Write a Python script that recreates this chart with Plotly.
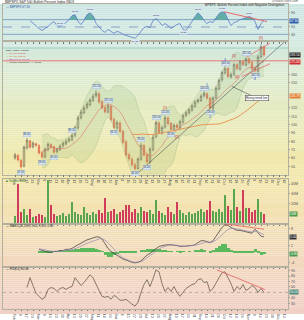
import plotly.graph_objects as go
from plotly.subplots import make_subplots
import pandas as pd

# ---------------- data ----------------
bars = list(range(84))
open_px = [60.0, 63.0, 57.0, 50.5, 72.0, 80.5, 73.5, 77.0, 75.0, 66.5,
           61.5, 70.0, 76.0, 73.5, 67.5, 70.0, 74.5, 77.0, 80.5, 82.0,
           87.5, 96.0, 108.5, 114.5, 120.5, 124.0, 129.0, 134.5, 137.0, 127.5,
           120.5, 115.0, 122.0, 106.5, 96.0, 102.0, 92.0, 79.5, 64.0, 58.5,
           52.0, 47.5, 58.5, 75.0, 64.0, 55.0, 70.0, 85.5, 102.0, 90.0,
           97.0, 108.0, 101.5, 94.0, 99.5, 96.0, 103.0, 111.0, 114.0, 117.5,
           122.0, 127.5, 129.0, 134.5, 137.0, 132.0, 119.5, 132.0, 143.0, 153.5,
           162.0, 167.5, 157.0, 160.5, 172.0, 166.5, 175.5, 171.5, 179.0, 174.5,
           167.5, 164.0, 181.5, 193.5]
high_px = [66.0, 65.0, 59.0, 75.0, 84.0, 82.0, 80.0, 78.5, 76.5, 68.0,
           72.5, 79.0, 78.0, 75.0, 72.5, 76.5, 80.0, 82.5, 85.0, 89.5,
           99.0, 111.0, 118.0, 123.0, 127.5, 132.0, 137.0, 141.5, 139.5, 130.0,
           122.5, 125.5, 124.0, 108.5, 105.0, 104.5, 94.0, 82.0, 66.5, 61.0,
           54.5, 61.0, 78.0, 77.0, 66.0, 73.0, 87.5, 105.0, 104.0, 99.0,
           111.0, 110.5, 103.5, 101.5, 101.5, 106.0, 113.0, 116.5, 120.0, 125.0,
           129.5, 131.5, 136.5, 140.0, 139.0, 133.5, 134.0, 146.0, 155.5, 165.0,
           169.5, 169.0, 162.5, 174.0, 174.0, 177.5, 177.5, 181.0, 181.0, 176.5,
           169.5, 183.5, 196.0, 195.5]
low_px = [58.0, 55.5, 47.0, 48.5, 70.0, 71.0, 71.5, 73.5, 64.0, 59.0,
          59.5, 68.0, 71.0, 65.0, 65.5, 68.5, 72.5, 75.0, 78.5, 80.0,
          85.0, 94.0, 106.0, 112.5, 118.5, 122.0, 127.0, 132.5, 125.0, 118.0,
          113.0, 113.5, 104.0, 94.5, 94.0, 89.5, 76.5, 61.5, 56.5, 49.5,
          45.0, 45.5, 56.5, 61.5, 53.0, 53.0, 68.0, 83.5, 88.5, 88.0,
          95.0, 99.0, 92.0, 92.0, 94.0, 94.0, 101.0, 109.0, 112.0, 115.5,
          120.0, 125.5, 127.0, 132.5, 129.5, 118.0, 117.5, 130.0, 141.0, 151.5,
          160.0, 155.5, 155.0, 158.5, 165.0, 164.5, 170.0, 169.5, 172.0, 165.0,
          162.5, 162.0, 179.5, 181.0]
close_px = [63.6, 57.7, 49.5, 73.0, 81.2, 73.0, 77.7, 75.3, 66.0, 61.2,
            70.6, 76.5, 73.0, 67.0, 70.6, 74.2, 77.7, 80.0, 82.4, 87.0,
            96.5, 108.0, 115.0, 120.0, 124.7, 129.4, 134.0, 137.7, 127.0, 120.0,
            115.3, 122.4, 106.0, 96.5, 102.4, 91.8, 78.9, 63.6, 58.9, 51.8,
            47.1, 58.9, 75.3, 63.6, 55.4, 70.6, 84.8, 102.4, 90.6, 96.5,
            108.3, 101.2, 94.2, 98.9, 96.5, 103.6, 110.6, 114.2, 117.7, 122.4,
            127.1, 129.4, 134.1, 137.7, 131.8, 120.0, 131.8, 143.6, 153.0, 162.4,
            167.0, 157.7, 160.0, 171.8, 167.0, 175.3, 171.8, 178.8, 174.0, 167.0,
            164.7, 181.2, 193.0, 183.5]
volume_m = [8, 40, 12, 15, 9, 15, 7, 8, 10, 9,
            7, 44, 19, 10, 8, 9, 11, 8, 10, 22,
            12, 10, 9, 17, 11, 9, 12, 10, 14, 11,
            26, 12, 13, 15, 10, 12, 14, 19, 19, 12,
            15, 11, 17, 13, 12, 14, 10, 24, 13, 11,
            9, 17, 12, 10, 22, 14, 11, 9, 12, 10,
            11, 13, 15, 12, 14, 23, 13, 12, 15, 12,
            29, 18, 14, 35, 17, 13, 34, 16, 16, 12,
            14, 25, 12, 10]

bpi_start = 5
bpi = [67.3, 59.3, 54.0, 46.0, 40.7, 46.0, 51.3, 59.3, 64.7, 54.0,
       51.3, 56.7, 62.0, 70.0, 80.7, 83.3, 64.7, 56.7, 67.3, 83.3,
       88.7, 80.7, 59.3, 51.3, 40.7, 35.3, 43.3, 38.0, 32.7, 38.0,
       35.3, 30.0, 27.3, 24.7, 22.0, 19.3, 27.3, 38.0, 48.7, 51.3,
       48.7, 67.3, 72.7, 64.7, 54.0, 59.3, 54.0, 46.0, 51.3, 56.7,
       59.3, 43.3, 40.7, 51.3, 64.7, 78.0, 88.7, 80.7, 67.3, 59.3,
       64.7, 62.0, 75.3, 86.0, 91.3, 88.7, 70.0, 54.0, 62.0, 64.7,
       70.0, 72.7, 75.3, 78.0, 75.3, 64.7, 43.3, 59.3, 67.3]

macd_start = 8
macd_line = [0.7, 0.3, 0.0, -0.3, -0.3, 0.0, 0.0, 0.3, 0.3, 0.7, 0.7, 1.0,
             1.7, 2.3, 3.0, 3.5, 4.0, 4.3, 4.7, 5.0, 5.0, 4.3,
             2.7, 1.0, 0.0, -0.7, -1.3, -2.0, -2.7, -3.0, -3.5, -3.8,
             -4.0, -3.8, -3.3, -2.3, -1.3, -0.7, 0.0, 1.0, 1.7, 2.0,
             2.2, 2.3, 2.3, 2.2, 2.0, 1.7, 1.7, 1.8, 2.0, 2.0,
             2.3, 3.0, 3.7, 3.7, 3.3, 3.0, 3.7, 5.3, 6.7, 8.3,
             9.3, 9.0, 8.3, 7.7, 7.3, 7.3, 7.0, 6.7, 6.5, 6.3,
             7.7, 6.3, 5.3, 5.0]
signal_line = [0.9, 0.7, 0.5, 0.2, 0.0, -0.1, -0.1, 0.0, 0.1, 0.3, 0.4, 0.6,
               0.9, 1.3, 1.8, 2.3, 2.8, 3.2, 3.6, 4.0, 4.3, 4.4,
               3.9, 3.0, 1.8, 0.6, -0.5, -1.5, -2.3, -2.8, -3.2, -3.6,
               -3.8, -3.8, -3.6, -3.0, -2.2, -1.5, -0.8, 0.0, 0.8, 1.4,
               1.8, 2.1, 2.2, 2.2, 2.1, 1.9, 1.8, 1.8, 1.9, 2.0,
               2.0, 2.3, 2.7, 3.1, 3.3, 3.2, 3.3, 3.9, 4.7, 5.7,
               6.8, 7.6, 8.0, 8.0, 7.8, 7.6, 7.4, 7.1, 6.9, 6.7,
               6.9, 6.8, 6.3, 5.8]

rsi_start = 4
rsi = [59.0, 77.0, 62.6, 48.2, 42.8, 37.4, 41.0, 55.4, 59.0, 57.2,
       51.8, 57.2, 59.0, 55.4, 59.0, 60.8, 77.0, 69.8, 62.6, 68.0,
       75.2, 82.4, 77.0, 64.4, 53.6, 42.8, 41.0, 42.8, 37.4, 44.6,
       41.0, 35.6, 35.6, 37.4, 32.0, 28.4, 24.8, 32.0, 50.0, 64.4,
       73.4, 60.8, 75.2, 91.4, 87.8, 66.2, 51.8, 59.0, 51.8, 60.8,
       50.0, 42.8, 50.0, 57.2, 60.8, 64.4, 66.2, 73.4, 75.2, 68.0,
       69.8, 51.8, 57.2, 68.0, 77.0, 86.0, 87.8, 77.0, 66.2, 51.8,
       60.8, 55.4, 64.4, 53.6, 57.2, 62.6, 59.0, 50.0, 57.2, 50.0]

tick_labels = ["Feb", "9", "17", "23", "Mar", "9", "16", "23", "30", "Apr", "13", "20", "27",
               "May", "11", "18", "26", "Jun", "8", "15", "22", "29", "Jul", "13", "20", "27",
               "Aug", "10", "17", "24", "31", "Sep", "14", "21", "28", "Oct", "12", "19", "26",
               "Nov", "9", "16", "23", "30", "Dec", "14"]

# hand-drawn chart annotations (trend lines), in data coordinates
price_trend_x, price_trend_y = [40.7, 89.7], [41.2, 198.8]
chan_up_x, chan_up_y = [77.3, 85.0], [181.2, 197.6]
chan_lo_x, chan_lo_y = [75.7, 85.0], [157.7, 173.0]
bpi_trend_x, bpi_trend_y = [69.7, 84.0], [91.3, 64.7]
macd_trend_x, macd_trend_y = [69.7, 83.0], [9.6, 7.7]
rsi_trend_x, rsi_trend_y = [67.3, 83.3], [91.4, 55.4]
support_level, resistance_level = 176.5, 191.8
pivot_highs = [4, 19, 27, 31, 42, 47, 50, 63, 70, 77]
pivot_lows = [2, 9, 13, 33, 40, 44, 52, 65, 80]
bpi_marks = [15, 20, 25, 40, 47, 56, 61, 69, 78]
waves = [(50, "[1]", "#d03030", 1), (54, "[2]", "#d03030", -1), (64, "1", "#2a4fd0", 1),
         (65, "2", "#2a4fd0", -1), (70, "3", "#2a4fd0", 1), (73, "[3]", "#d03030", 1),
         (74, "[4]", "#d03030", -1), (80, "4", "#2a4fd0", -1), (82, "[5]", "#d03030", 1)]

# ---------------- derived ----------------
cs = pd.Series(close_px)
ma_short = cs.rolling(10).mean()
ma_long = cs.rolling(40).mean()
sd = cs.rolling(10).std()
bb_up = ma_short + 2 * sd
bb_lo = ma_short - 2 * sd
bpi_x = bars[bpi_start:]
macd_x = bars[macd_start:]
rsi_x = bars[rsi_start:]
hist = [m - s for m, s in zip(macd_line, signal_line)]
vol_colors = ["#3c9a3c" if c >= o else "#c8204a" for o, c in zip(open_px, close_px)]

FONT = "Liberation Sans"
X0, X1 = 3 / 304, 288 / 304


def py(y):
    return 1 - y / 320


fig = make_subplots(rows=5, cols=1, shared_xaxes=True, vertical_spacing=0)

# --- panel 1: bullish percent ---
fig.add_trace(go.Scatter(x=bpi_x, y=[70] * len(bpi), mode="lines", line=dict(width=0),
                         hoverinfo="skip", showlegend=False), row=1, col=1)
fig.add_trace(go.Scatter(x=bpi_x, y=[max(v, 70) for v in bpi], mode="lines", line=dict(width=0),
                         fill="tonexty", fillcolor="rgba(70,160,150,0.8)", showlegend=False), row=1, col=1)
fig.add_trace(go.Scatter(x=bpi_x, y=bpi, mode="lines", line=dict(color="#5a7cc8", width=0.8),
                         showlegend=False), row=1, col=1)
fig.add_trace(go.Scatter(x=bpi_trend_x, y=bpi_trend_y, mode="lines",
                         line=dict(color="#e86a6a", width=1), showlegend=False), row=1, col=1)

# --- panel 2: price ---
fig.add_trace(go.Scatter(x=bars, y=bb_up, mode="lines", line=dict(color="rgba(130,165,110,0.5)", width=0.5),
                         showlegend=False), row=2, col=1)
fig.add_trace(go.Scatter(x=bars, y=bb_lo, mode="lines", line=dict(color="rgba(130,165,110,0.5)", width=0.5),
                         fill="tonexty", fillcolor="rgba(150,190,130,0.2)", showlegend=False), row=2, col=1)
fig.add_trace(go.Scatter(x=bars, y=ma_long, mode="lines", line=dict(color="#e8904a", width=0.9),
                         showlegend=False), row=2, col=1)
fig.add_trace(go.Scatter(x=bars, y=ma_short, mode="lines", line=dict(color="#e06060", width=0.5),
                         showlegend=False), row=2, col=1)
fig.add_trace(go.Scatter(x=price_trend_x, y=price_trend_y, mode="lines", line=dict(color="#555", width=0.6),
                         showlegend=False), row=2, col=1)
for tx, ty in [(chan_up_x, chan_up_y), (chan_lo_x, chan_lo_y)]:
    fig.add_trace(go.Scatter(x=tx, y=ty, mode="lines", line=dict(color="#e86a6a", width=0.8),
                             showlegend=False), row=2, col=1)
fig.add_trace(go.Candlestick(x=bars, open=open_px, high=high_px, low=low_px, close=close_px,
                             increasing=dict(line=dict(color="#4a4030", width=0.5), fillcolor="rgba(255,255,255,0)"),
                             decreasing=dict(line=dict(color="#d85a3a", width=0.5), fillcolor="#e8825a"),
                             whiskerwidth=0, showlegend=False), row=2, col=1)

# --- panel 3: volume ---
fig.add_trace(go.Bar(x=bars, y=volume_m, marker=dict(color=vol_colors, line=dict(width=0)),
                     width=0.75, opacity=0.85, showlegend=False), row=3, col=1)

# --- panel 4: MACD ---
fig.add_trace(go.Bar(x=macd_x, y=hist, marker=dict(color="#5cb85c", line=dict(width=0)), width=1.0,
                     showlegend=False), row=4, col=1)
fig.add_trace(go.Scatter(x=macd_x, y=macd_line, mode="lines", line=dict(color="#333", width=0.7),
                         showlegend=False), row=4, col=1)
fig.add_trace(go.Scatter(x=macd_x, y=signal_line, mode="lines", line=dict(color="#9a88b8", width=0.7),
                         showlegend=False), row=4, col=1)
fig.add_trace(go.Scatter(x=macd_trend_x, y=macd_trend_y, mode="lines", line=dict(color="#e86a6a", width=0.9),
                         showlegend=False), row=4, col=1)

# --- panel 5: RSI ---
fig.add_trace(go.Scatter(x=rsi_x, y=rsi, mode="lines", line=dict(color="#5a4a40", width=0.7),
                         showlegend=False), row=5, col=1)
fig.add_trace(go.Scatter(x=rsi_trend_x, y=rsi_trend_y, mode="lines", line=dict(color="#e86a6a", width=0.9),
                         showlegend=False), row=5, col=1)

# ---------------- right-axis value boxes ----------------
boxes = [(1, bpi[-1], "%.2f" % bpi[-1], "#2f5fa8"), (2, close_px[-1], "%.2f" % close_px[-1], "#222"),
         (2, ma_short.iloc[-1], "%.2f" % ma_short.iloc[-1], "#d03030"),
         (2, ma_long.iloc[-1], "%.2f" % ma_long.iloc[-1], "#e08030"),
         (3, volume_m[-1], "%.0fM" % volume_m[-1], "#4a9a4a"),
         (4, macd_line[-1], "%.2f" % macd_line[-1], "#333"),
         (4, hist[-1], "%.2f" % hist[-1], "#4a9a4a"), (5, rsi[-1], "%.2f" % rsi[-1], "#4a8a7a")]

# ---------------- axes ----------------
doms = [(42, 4), (178, 42), (228, 182), (272, 228), (315, 272)]
ranges = [[11.3, 112.7], [40, 200], [0, 45.5], [-5.4, 9.6], [19.4, 96.8]]
ticks = [[30, 50, 70, 90], list(range(50, 200, 10)), [10, 20, 30, 40],
         [-4, -2, 0, 2, 4, 6, 8], [30, 40, 50, 60, 70, 80, 90]]
tvals = list(range(0, 92, 2))
for k in range(5):
    n = "" if k == 0 else str(k + 1)
    span = ranges[k][1] - ranges[k][0]
    busy = [b[1] for b in boxes if b[0] == k + 1]
    tk = [t for t in ticks[k] if all(abs(t - b) > 0.085 * span for b in busy)]
    fig.layout["yaxis" + n].update(domain=[py(doms[k][0]), py(doms[k][1])], range=ranges[k],
                                   side="right", tickvals=tk, showgrid=False, zeroline=False,
                                   ticktext=[("%dM" % t) if k == 2 else str(t) for t in tk],
                                   tickfont=dict(size=3.6, color="#555", family=FONT),
                                   showline=True, mirror=True, linecolor="#b4b0a0", linewidth=0.6,
                                   ticks="outside", ticklen=1.5, tickcolor="#999")
    fig.layout["xaxis" + n].update(domain=[X0, X1], range=[-4, 91], showgrid=False, zeroline=False,
                                   tickvals=tvals, ticktext=tick_labels,
                                   showticklabels=(k in (1, 4)),
                                   tickfont=dict(size=3.4, color="#444", family=FONT),
                                   ticks="outside", ticklen=1.5, tickcolor="#777",
                                   showline=True, mirror=True, linecolor="#b4b0a0", linewidth=0.6,
                                   rangeslider=dict(visible=False))

# ---------------- background gradient + level lines ----------------
stops = [(4, (206, 231, 228)), (45, (212, 234, 224)), (70, (220, 235, 212)), (110, (230, 236, 194)),
         (150, (239, 234, 176)), (180, (243, 231, 170)), (228, (243, 224, 182)),
         (272, (242, 216, 192)), (320, (240, 208, 198))]
shapes = []
y = 4
while y < 320:
    for (ya, ca), (yb, cb) in zip(stops[:-1], stops[1:]):
        if ya <= y < yb:
            t = (y - ya) / (yb - ya)
            c = tuple(int(ca[j] + (cb[j] - ca[j]) * t) for j in range(3))
            break
    shapes.append(dict(type="rect", xref="paper", yref="paper", x0=0, x1=1, y0=py(y + 2), y1=py(y),
                       fillcolor="rgb(%d,%d,%d)" % c, line=dict(width=0), layer="below"))
    y += 2


def hline(yref, val, color, width, dash="solid"):
    shapes.append(dict(type="line", xref="paper", yref=yref, x0=X0, x1=X1, y0=val, y1=val,
                       line=dict(color=color, width=width, dash=dash), layer="below"))


for lv, dash in [(70, "solid"), (50, "dash"), (30, "solid")]:
    hline("y", lv, "#6f8fc0", 0.8, dash)
hline("y2", resistance_level, "#8cc8c0", 0.8)
hline("y2", support_level, "#e87878", 1.0)
hline("y5", 50, "#a09080", 0.6, "dot")

# ---------------- annotations ----------------
ann = []


def txt(x, y, s, color="#222", size=3.4, xanchor="left"):
    ann.append(dict(x=x / 304, y=py(y), xref="paper", yref="paper", text=s, showarrow=False,
                    xanchor=xanchor, yanchor="middle", font=dict(size=size, color=color, family=FONT)))


txt(3, 2, "$BPSPX S&P 500 Bullish Percent Index INDX", size=3.4)
txt(300, 1.5, "@StockCharts.com", size=3, xanchor="right", color="#555")
txt(287, 5.5, "BPSPX: Bullish Percent Index with Negative Divergence", size=3.2, xanchor="right")
txt(4, 7.5, "— $BPSPX %.2f" % bpi[-1], size=3, color="#2a4fa0")
legend_lines = [("$SPX (Daily) %.2f" % close_px[-1], "#222"),
                ("— MA(10) %.2f" % ma_short.iloc[-1], "#d03030"),
                ("— MA(40) %.2f" % ma_long.iloc[-1], "#e06020"),
                ("— BB(10,2.0) %.2f" % bb_up.iloc[-1], "#c030c0"),
                ("— Volume undefined  ── Trend", "#222")]
for j, (s, col) in enumerate(legend_lines):
    txt(4, 51.5 + 3.1 * j, s, size=2.5, color=col)
txt(4, 184, "■ Volume %.0fM" % volume_m[-1], size=3, color="#2a7a2a")
txt(4, 230.5, "— MACD(12,26,9) %.2f, %.2f, %.2f" % (macd_line[-1], signal_line[-1], hist[-1]), size=3)
txt(4, 274.5, "— RSI(14) %.2f" % rsi[-1], size=3)

for row, val, s, col in boxes:
    n = "" if row == 1 else str(row)
    ann.append(dict(x=X1 + 0.003, xref="paper", y=val, yref="y" + n, text=s, showarrow=False,
                    xanchor="left", yanchor="middle", bgcolor=col, borderpad=0,
                    font=dict(size=3.2, color="white", family=FONT)))

for i in pivot_highs:
    ann.append(dict(x=i, y=high_px[i], xref="x2", yref="y2", text="%.2f" % high_px[i], showarrow=False,
                    yshift=3.2, font=dict(size=2.6, color="#234", family=FONT), bgcolor="#dbe8f4",
                    bordercolor="#9ab8d4", borderwidth=0.4, borderpad=0))
for i in pivot_lows:
    ann.append(dict(x=i, y=low_px[i], xref="x2", yref="y2", text="%.2f" % low_px[i], showarrow=False,
                    yshift=-3.2, font=dict(size=2.6, color="#234", family=FONT), bgcolor="#dbe8f4",
                    bordercolor="#9ab8d4", borderwidth=0.4, borderpad=0))
for i in bpi_marks:
    v = bpi[i - bpi_start]
    ann.append(dict(x=i, y=v, xref="x", yref="y", text="%.2f" % v, showarrow=False,
                    yshift=3 if v > 50 else -3, font=dict(size=2.5, color="#234", family=FONT),
                    bgcolor="#d8e6f0", borderpad=0))
for i, s, col, side in waves:
    base = high_px[i] if side > 0 else low_px[i]
    ann.append(dict(x=i, y=base, xref="x2", yref="y2", text=s, showarrow=False,
                    yshift=7 * side, font=dict(size=3.4, color=col, family=FONT)))
ann.append(dict(x=72.3, y=145.9, xref="x2", yref="y2", ax=80.5, ay=131.8, axref="x2", ayref="y2",
                text="Rising trend line", showarrow=True, arrowhead=0, arrowwidth=0.5, arrowcolor="#333",
                font=dict(size=3, color="#222", family=FONT), bgcolor="white", bordercolor="#333",
                borderwidth=0.5, borderpad=0.5))

fig.update_layout(width=304, height=320, autosize=False, margin=dict(l=0, r=0, t=0, b=0),
                  paper_bgcolor="white", plot_bgcolor="rgba(0,0,0,0)", shapes=shapes,
                  annotations=ann, showlegend=False, bargap=0, hovermode=False,
                  font=dict(family=FONT))
fig.write_html("out.html")
